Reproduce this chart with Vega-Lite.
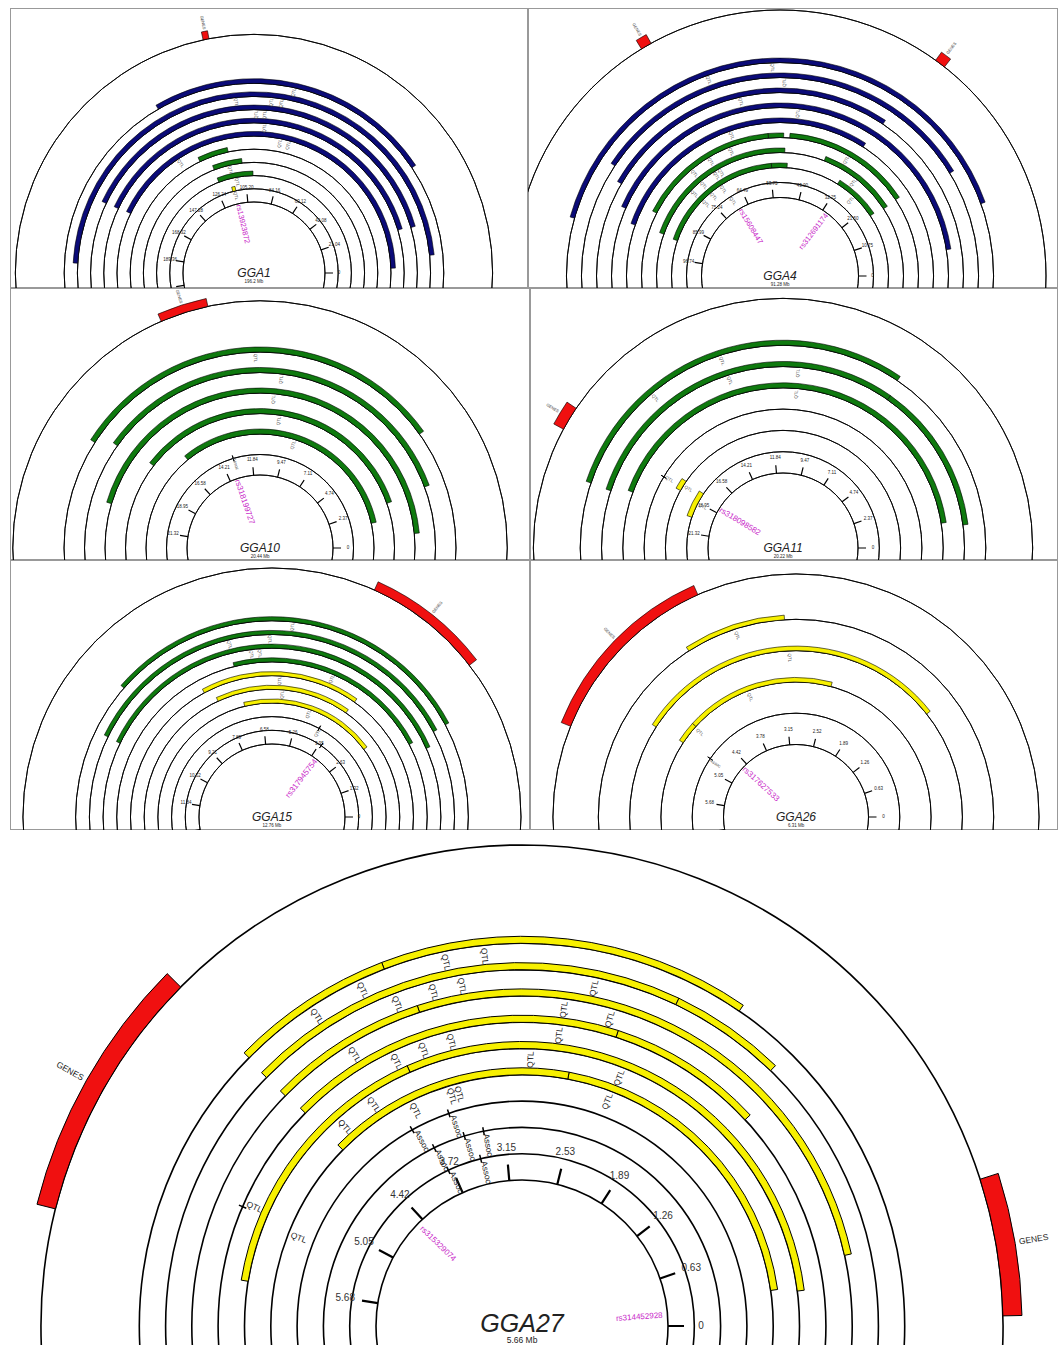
{
"$schema":"https://vega.github.io/schema/vega-lite/v6.json",
"padding":{"left":10,"top":8,"right":0,"bottom":0},
"background":"white",
"config":{"font":"Liberation Sans","text":{"font":"Liberation Sans"},"view":{"stroke":null}},
"spacing":0,
"resolve":{"scale":{"angle":"independent"}},
"datasets":{"main":[
{"p":"GGA1","k":"ring","r":0},{"p":"GGA1","k":"ring","r":1},{"p":"GGA1","k":"ring","r":2},{"p":"GGA1","k":"ring","r":3},{"p":"GGA1","k":"ring","r":4},{"p":"GGA1","k":"ring","r":5},{"p":"GGA1","k":"ring","r":6},{"p":"GGA1","k":"ring","r":7},{"p":"GGA1","k":"ring","r":8},{"p":"GGA1","k":"ring","r":9},{"p":"GGA1","k":"ring","r":12.7},
{"p":"GGA1","k":"bar","r":9,"s":37.3,"e":133.2,"c":"blue"},{"p":"GGA1","k":"bar","r":8,"s":6.4,"e":195.8,"c":"blue"},{"p":"GGA1","k":"bar","r":7,"s":17.9,"e":171.4,"c":"blue"},{"p":"GGA1","k":"bar","r":6,"s":18.4,"e":171.2,"c":"blue"},{"p":"GGA1","k":"bar","r":5,"s":2.2,"e":170.8,"c":"blue"},{"p":"GGA1","k":"bar","r":4,"s":113.0,"e":128.3,"c":"green"},{"p":"GGA1","k":"bar","r":3,"s":106.5,"e":123.0,"c":"green"},{"p":"GGA1","k":"bar","r":2,"s":100.3,"e":123.1,"c":"green"},{"p":"GGA1","k":"bar","r":1,"s":113.4,"e":115.8,"c":"yellow"},
{"p":"GGA1","k":"genes","r":12.7,"s":111.7,"e":113.3},{"p":"GGA1","k":"gl","r":12.7,"s":112.5,"t":"GENES"},
{"p":"GGA1","k":"tick","s":0,"t":"0"},{"p":"GGA1","k":"tick","s":21.04,"t":"21.04"},{"p":"GGA1","k":"tick","s":42.08,"t":"42.08"},{"p":"GGA1","k":"tick","s":63.12,"t":"63.12"},{"p":"GGA1","k":"tick","s":84.16,"t":"84.16"},{"p":"GGA1","k":"tick","s":105.2,"t":"105.20"},{"p":"GGA1","k":"tick","s":126.24,"t":"126.24"},{"p":"GGA1","k":"tick","s":147.28,"t":"147.28"},{"p":"GGA1","k":"tick","s":168.32,"t":"168.32"},{"p":"GGA1","k":"tick","s":189.36,"t":"189.36"},{"p":"GGA1","k":"tick","s":210.4,"t":""},
{"p":"GGA1","k":"lab","r":9,"s":85.8,"t":"QTL"},{"p":"GGA1","k":"lab","r":8,"s":106.4,"t":"QTL"},{"p":"GGA1","k":"lab","r":8,"s":93.1,"t":"QTL"},{"p":"GGA1","k":"lab","r":8,"s":89.4,"t":"QTL"},{"p":"GGA1","k":"lab","r":7,"s":98.6,"t":"QTL"},{"p":"GGA1","k":"lab","r":7,"s":95.2,"t":"QTL"},{"p":"GGA1","k":"lab","r":6,"s":94.9,"t":"QTL"},{"p":"GGA1","k":"lab","r":5,"s":87.0,"t":"QTL"},{"p":"GGA1","k":"lab","r":5,"s":82.9,"t":"QTL"},{"p":"GGA1","k":"lab","r":5,"s":137.3,"t":"QTL"},{"p":"GGA1","k":"lab","r":3,"s":114.2,"t":"QTL"},{"p":"GGA1","k":"lab","r":2,"s":111.5,"t":"QTL"},{"p":"GGA1","k":"lab","r":1,"s":114.6,"t":"QTL"},
{"p":"GGA1","k":"snp","s":114.1,"t":"rs13923872"},{"p":"GGA1","k":"title","t":"GGA1"},{"p":"GGA1","k":"sub","t":"196.2 Mb"},

{"p":"GGA4","k":"ring","r":0},{"p":"GGA4","k":"ring","r":1},{"p":"GGA4","k":"ring","r":2},{"p":"GGA4","k":"ring","r":3},{"p":"GGA4","k":"ring","r":4},{"p":"GGA4","k":"ring","r":5},{"p":"GGA4","k":"ring","r":6},{"p":"GGA4","k":"ring","r":7},{"p":"GGA4","k":"ring","r":8},{"p":"GGA4","k":"ring","r":9},{"p":"GGA4","k":"ring","r":12.5},
{"p":"GGA4","k":"bar","r":9,"s":11.2,"e":92.95,"c":"blue"},{"p":"GGA4","k":"bar","r":8,"s":17.65,"e":82.77,"c":"blue"},{"p":"GGA4","k":"bar","r":7,"s":31.62,"e":84.75,"c":"blue"},{"p":"GGA4","k":"bar","r":6,"s":5.09,"e":88.42,"c":"blue"},{"p":"GGA4","k":"bar","r":5,"s":32.36,"e":90.86,"c":"blue"},
{"p":"GGA4","k":"bar","r":4,"s":18.9,"e":48.65,"c":"green"},{"p":"GGA4","k":"bar","r":4,"s":50.07,"e":53.63,"c":"green"},{"p":"GGA4","k":"bar","r":4,"s":53.63,"e":86.56,"c":"green"},{"p":"GGA4","k":"bar","r":3,"s":18.67,"e":39.04,"c":"green"},{"p":"GGA4","k":"bar","r":3,"s":49.67,"e":90.63,"c":"green"},{"p":"GGA4","k":"bar","r":2,"s":19.07,"e":32.81,"c":"green"},{"p":"GGA4","k":"bar","r":2,"s":48.82,"e":53.41,"c":"green"},{"p":"GGA4","k":"bar","r":2,"s":53.41,"e":91.08,"c":"green"},
{"p":"GGA4","k":"genes","r":12.5,"s":67.32,"e":68.68},{"p":"GGA4","k":"genes","r":12.5,"s":29.31,"e":30.66},{"p":"GGA4","k":"gl","r":12.5,"s":68.0,"t":"GENES"},{"p":"GGA4","k":"gl","r":12.5,"s":29.98,"t":"GENES"},
{"p":"GGA4","k":"tick","s":0,"t":"0"},{"p":"GGA4","k":"tick","s":10.749,"t":"10.75"},{"p":"GGA4","k":"tick","s":21.498,"t":"21.50"},{"p":"GGA4","k":"tick","s":32.247,"t":"32.25"},{"p":"GGA4","k":"tick","s":42.996,"t":"43.00"},{"p":"GGA4","k":"tick","s":53.745,"t":"53.75"},{"p":"GGA4","k":"tick","s":64.494,"t":"64.49"},{"p":"GGA4","k":"tick","s":75.243,"t":"75.24"},{"p":"GGA4","k":"tick","s":85.992,"t":"85.99"},{"p":"GGA4","k":"tick","s":96.741,"t":"96.74"},{"p":"GGA4","k":"tick","s":107.49,"t":""},
{"p":"GGA4","k":"lab","r":9,"s":52.16,"t":"QTL"},{"p":"GGA4","k":"lab","r":9,"s":62.29,"t":"QTL"},{"p":"GGA4","k":"lab","r":8,"s":50.12,"t":"QTL"},{"p":"GGA4","k":"lab","r":7,"s":58.16,"t":"QTL"},{"p":"GGA4","k":"lab","r":6,"s":47.3,"t":"QTL"},{"p":"GGA4","k":"lab","r":5,"s":61.78,"t":"QTL"},{"p":"GGA4","k":"lab","r":4,"s":63.14,"t":"QTL"},{"p":"GGA4","k":"lab","r":4,"s":68.62,"t":"QTL"},{"p":"GGA4","k":"lab","r":4,"s":73.6,"t":"QTL"},{"p":"GGA4","k":"lab","r":4,"s":34.0,"t":"QTL"},{"p":"GGA4","k":"lab","r":3,"s":67.89,"t":"QTL"},{"p":"GGA4","k":"lab","r":3,"s":69.36,"t":"QTL"},{"p":"GGA4","k":"lab","r":3,"s":73.72,"t":"QTL"},{"p":"GGA4","k":"lab","r":3,"s":77.17,"t":"QTL"},{"p":"GGA4","k":"lab","r":3,"s":29.25,"t":"QTL"},{"p":"GGA4","k":"lab","r":2,"s":69.87,"t":"QTL"},{"p":"GGA4","k":"lab","r":2,"s":73.6,"t":"QTL"},{"p":"GGA4","k":"lab","r":2,"s":76.94,"t":"QTL"},{"p":"GGA4","k":"lab","r":2,"s":26.48,"t":"QTL"},{"p":"GGA4","k":"lab","r":1,"s":69.3,"t":"QTL"},
{"p":"GGA4","k":"snp","s":68.45,"t":"rs15608447"},{"p":"GGA4","k":"snp","s":29.81,"t":"rs312691174"},{"p":"GGA4","k":"title","t":"GGA4"},{"p":"GGA4","k":"sub","t":"91.28 Mb"},

{"p":"GGA10","k":"ring","r":0},{"p":"GGA10","k":"ring","r":1},{"p":"GGA10","k":"ring","r":2},{"p":"GGA10","k":"ring","r":3},{"p":"GGA10","k":"ring","r":4},{"p":"GGA10","k":"ring","r":5},{"p":"GGA10","k":"ring","r":6},{"p":"GGA10","k":"ring","r":8.5},
{"p":"GGA10","k":"bar","r":6,"s":4.43,"e":18.38,"c":"green"},{"p":"GGA10","k":"bar","r":5,"s":2.54,"e":18.0,"c":"green"},{"p":"GGA10","k":"bar","r":4,"s":0.67,"e":20.37,"c":"green"},{"p":"GGA10","k":"bar","r":3,"s":2.42,"e":17.74,"c":"green"},{"p":"GGA10","k":"bar","r":2,"s":1.56,"e":16.12,"c":"green"},
{"p":"GGA10","k":"genes","r":8.5,"s":12.74,"e":14.16},{"p":"GGA10","k":"gl","r":8.5,"s":13.45,"t":"GENES"},{"p":"GGA10","k":"mk","r":1,"s":13.3},
{"p":"GGA10","k":"tick","s":0,"t":"0"},{"p":"GGA10","k":"tick","s":2.369,"t":"2.37"},{"p":"GGA10","k":"tick","s":4.738,"t":"4.74"},{"p":"GGA10","k":"tick","s":7.107,"t":"7.11"},{"p":"GGA10","k":"tick","s":9.476,"t":"9.47"},{"p":"GGA10","k":"tick","s":11.845,"t":"11.84"},{"p":"GGA10","k":"tick","s":14.214,"t":"14.21"},{"p":"GGA10","k":"tick","s":16.583,"t":"16.58"},{"p":"GGA10","k":"tick","s":18.952,"t":"18.95"},{"p":"GGA10","k":"tick","s":21.321,"t":"21.32"},{"p":"GGA10","k":"tick","s":23.69,"t":""},
{"p":"GGA10","k":"lab","r":6,"s":11.41,"t":"QTL"},{"p":"GGA10","k":"lab","r":5,"s":10.31,"t":"QTL"},{"p":"GGA10","k":"lab","r":4,"s":10.56,"t":"QTL"},{"p":"GGA10","k":"lab","r":3,"s":10.15,"t":"QTL"},{"p":"GGA10","k":"lab","r":2,"s":8.98,"t":"QTL"},{"p":"GGA10","k":"lab","r":1,"s":13.27,"t":"Assoc"},
{"p":"GGA10","k":"snp","s":13.58,"t":"rs318199727"},{"p":"GGA10","k":"title","t":"GGA10"},{"p":"GGA10","k":"sub","t":"20.44 Mb"},

{"p":"GGA11","k":"ring","r":0},{"p":"GGA11","k":"ring","r":1},{"p":"GGA11","k":"ring","r":2},{"p":"GGA11","k":"ring","r":3},{"p":"GGA11","k":"ring","r":4},{"p":"GGA11","k":"ring","r":5},{"p":"GGA11","k":"ring","r":6},{"p":"GGA11","k":"ring","r":8.2},
{"p":"GGA11","k":"bar","r":6,"s":6.94,"e":20.11,"c":"green"},{"p":"GGA11","k":"bar","r":5,"s":0.91,"e":6.84,"c":"green"},{"p":"GGA11","k":"bar","r":5,"s":6.84,"e":20.15,"c":"green"},{"p":"GGA11","k":"bar","r":4,"s":1.11,"e":19.9,"c":"green"},{"p":"GGA11","k":"bar","r":2,"s":18.14,"e":18.8,"c":"yellow"},{"p":"GGA11","k":"bar","r":1,"s":18.17,"e":20.12,"c":"yellow"},
{"p":"GGA11","k":"mk","r":3,"s":18.6},{"p":"GGA11","k":"genes","r":8.2,"s":18.2,"e":18.9},{"p":"GGA11","k":"gl","r":8.2,"s":18.55,"t":"GENES"},
{"p":"GGA11","k":"tick","s":0,"t":"0"},{"p":"GGA11","k":"tick","s":2.369,"t":"2.37"},{"p":"GGA11","k":"tick","s":4.738,"t":"4.74"},{"p":"GGA11","k":"tick","s":7.107,"t":"7.11"},{"p":"GGA11","k":"tick","s":9.476,"t":"9.47"},{"p":"GGA11","k":"tick","s":11.845,"t":"11.84"},{"p":"GGA11","k":"tick","s":14.214,"t":"14.21"},{"p":"GGA11","k":"tick","s":16.583,"t":"16.58"},{"p":"GGA11","k":"tick","s":18.952,"t":"18.95"},{"p":"GGA11","k":"tick","s":21.321,"t":"21.32"},{"p":"GGA11","k":"tick","s":23.69,"t":""},
{"p":"GGA11","k":"lab","r":6,"s":13.49,"t":"QTL"},{"p":"GGA11","k":"lab","r":6,"s":16.28,"t":"QTL"},{"p":"GGA11","k":"lab","r":5,"s":13.44,"t":"QTL"},{"p":"GGA11","k":"lab","r":5,"s":10.6,"t":"QTL"},{"p":"GGA11","k":"lab","r":4,"s":10.59,"t":"QTL"},{"p":"GGA11","k":"lab","r":3,"s":18.58,"t":"QTL"},{"p":"GGA11","k":"lab","r":2,"s":18.48,"t":"QTL"},{"p":"GGA11","k":"lab","r":1,"s":19.08,"t":"QTL"},
{"p":"GGA11","k":"snp","s":18.56,"t":"rs318098582"},{"p":"GGA11","k":"title","t":"GGA11"},{"p":"GGA11","k":"sub","t":"20.22 Mb"},

{"p":"GGA15","k":"ring","r":0},{"p":"GGA15","k":"ring","r":1},{"p":"GGA15","k":"ring","r":2},{"p":"GGA15","k":"ring","r":3},{"p":"GGA15","k":"ring","r":4},{"p":"GGA15","k":"ring","r":5},{"p":"GGA15","k":"ring","r":6},{"p":"GGA15","k":"ring","r":7},{"p":"GGA15","k":"ring","r":8},{"p":"GGA15","k":"ring","r":9},{"p":"GGA15","k":"ring","r":12.85},
{"p":"GGA15","k":"bar","r":9,"s":1.94,"e":9.62,"c":"green"},{"p":"GGA15","k":"bar","r":8,"s":1.93,"e":10.66,"c":"green"},{"p":"GGA15","k":"bar","r":7,"s":1.66,"e":10.67,"c":"green"},{"p":"GGA15","k":"bar","r":6,"s":1.93,"e":7.21,"c":"green"},{"p":"GGA15","k":"bar","r":5,"s":3.76,"e":8.21,"c":"yellow"},{"p":"GGA15","k":"bar","r":4,"s":3.78,"e":7.96,"c":"yellow"},{"p":"GGA15","k":"bar","r":3,"s":2.52,"e":7.19,"c":"yellow"},
{"p":"GGA15","k":"genes","r":12.85,"s":2.6,"e":4.55},{"p":"GGA15","k":"gl","r":12.85,"s":3.58,"t":"GENES"},{"p":"GGA15","k":"mk","r":2,"s":4.29},{"p":"GGA15","k":"mk","r":1,"s":3.84},
{"p":"GGA15","k":"tick","s":0,"t":"0"},{"p":"GGA15","k":"tick","s":1.3156,"t":"1.32"},{"p":"GGA15","k":"tick","s":2.6312,"t":"2.63"},{"p":"GGA15","k":"tick","s":3.9468,"t":"3.95"},{"p":"GGA15","k":"tick","s":5.2624,"t":"5.26"},{"p":"GGA15","k":"tick","s":6.578,"t":"6.58"},{"p":"GGA15","k":"tick","s":7.8936,"t":"7.89"},{"p":"GGA15","k":"tick","s":9.2092,"t":"9.21"},{"p":"GGA15","k":"tick","s":10.5248,"t":"10.52"},{"p":"GGA15","k":"tick","s":11.8404,"t":"11.84"},{"p":"GGA15","k":"tick","s":13.156,"t":""},
{"p":"GGA15","k":"lab","r":9,"s":5.8,"t":"QTL"},{"p":"GGA15","k":"lab","r":8,"s":6.29,"t":"QTL"},{"p":"GGA15","k":"lab","r":8,"s":7.2,"t":"QTL"},{"p":"GGA15","k":"lab","r":7,"s":6.74,"t":"QTL"},{"p":"GGA15","k":"lab","r":7,"s":6.54,"t":"QTL"},{"p":"GGA15","k":"lab","r":6,"s":4.6,"t":"QTL"},{"p":"GGA15","k":"lab","r":5,"s":6.0,"t":"QTL"},{"p":"GGA15","k":"lab","r":4,"s":5.89,"t":"QTL"},{"p":"GGA15","k":"lab","r":3,"s":4.87,"t":"QTL"},{"p":"GGA15","k":"lab","r":2,"s":4.25,"t":"QTL"},
{"p":"GGA15","k":"snp","s":3.61,"t":"rs317945754"},{"p":"GGA15","k":"title","t":"GGA15"},{"p":"GGA15","k":"sub","t":"12.76 Mb"},

{"p":"GGA26","k":"ring","r":0},{"p":"GGA26","k":"ring","r":1},{"p":"GGA26","k":"ring","r":2},{"p":"GGA26","k":"ring","r":3},{"p":"GGA26","k":"ring","r":4},{"p":"GGA26","k":"ring","r":5.45},
{"p":"GGA26","k":"bar","r":4,"s":3.1,"e":4.08,"c":"yellow"},{"p":"GGA26","k":"bar","r":3,"s":1.27,"e":4.89,"c":"yellow"},{"p":"GGA26","k":"bar","r":2,"s":2.49,"e":4.58,"c":"yellow"},{"p":"GGA26","k":"bar","r":2,"s":4.58,"e":4.87,"c":"yellow"},
{"p":"GGA26","k":"genes","r":5.45,"s":3.78,"e":5.25},{"p":"GGA26","k":"gl","r":5.45,"s":4.5,"t":"GENES"},{"p":"GGA26","k":"mk","r":1,"s":4.84},
{"p":"GGA26","k":"tick","s":0,"t":"0"},{"p":"GGA26","k":"tick","s":0.631,"t":"0.63"},{"p":"GGA26","k":"tick","s":1.262,"t":"1.26"},{"p":"GGA26","k":"tick","s":1.893,"t":"1.89"},{"p":"GGA26","k":"tick","s":2.524,"t":"2.52"},{"p":"GGA26","k":"tick","s":3.155,"t":"3.15"},{"p":"GGA26","k":"tick","s":3.786,"t":"3.78"},{"p":"GGA26","k":"tick","s":4.417,"t":"4.42"},{"p":"GGA26","k":"tick","s":5.048,"t":"5.05"},{"p":"GGA26","k":"tick","s":5.679,"t":"5.68"},{"p":"GGA26","k":"tick","s":6.31,"t":""},
{"p":"GGA26","k":"lab","r":4,"s":3.59,"t":"QTL"},{"p":"GGA26","k":"lab","r":3,"s":3.07,"t":"QTL"},{"p":"GGA26","k":"lab","r":2,"s":3.69,"t":"QTL"},{"p":"GGA26","k":"lab","r":2,"s":4.61,"t":"QTL"},{"p":"GGA26","k":"lab","r":1,"s":4.87,"t":"Assoc"},
{"p":"GGA26","k":"snp","s":4.56,"t":"rs317627533"},{"p":"GGA26","k":"title","t":"GGA26"},{"p":"GGA26","k":"sub","t":"6.31 Mb"},

{"p":"GGA27","k":"ring","r":0},{"p":"GGA27","k":"ring","r":1},{"p":"GGA27","k":"ring","r":2},{"p":"GGA27","k":"ring","r":3},{"p":"GGA27","k":"ring","r":4},{"p":"GGA27","k":"ring","r":5},{"p":"GGA27","k":"ring","r":6},{"p":"GGA27","k":"ring","r":7},{"p":"GGA27","k":"ring","r":8},{"p":"GGA27","k":"ring","r":9},{"p":"GGA27","k":"ring","r":12.74},
{"p":"GGA27","k":"bar","r":9,"s":1.84,"e":3.69,"c":"yellow"},{"p":"GGA27","k":"bar","r":9,"s":3.69,"e":4.5,"c":"yellow"},{"p":"GGA27","k":"bar","r":8,"s":1.52,"e":2.14,"c":"yellow"},{"p":"GGA27","k":"bar","r":8,"s":2.14,"e":4.51,"c":"yellow"},{"p":"GGA27","k":"bar","r":7,"s":0.41,"e":3.59,"c":"yellow"},{"p":"GGA27","k":"bar","r":7,"s":3.59,"e":4.51,"c":"yellow"},{"p":"GGA27","k":"bar","r":6,"s":1.42,"e":2.39,"c":"yellow"},{"p":"GGA27","k":"bar","r":6,"s":2.39,"e":4.5,"c":"yellow"},{"p":"GGA27","k":"bar","r":5,"s":0.24,"e":3.78,"c":"yellow"},{"p":"GGA27","k":"bar","r":5,"s":3.78,"e":5.67,"c":"yellow"},{"p":"GGA27","k":"bar","r":4,"s":0.27,"e":2.64,"c":"yellow"},{"p":"GGA27","k":"bar","r":4,"s":2.64,"e":4.5,"c":"yellow"},
{"p":"GGA27","k":"genes","r":12.74,"s":4.49,"e":5.51},{"p":"GGA27","k":"genes","r":12.74,"s":0.04,"e":0.59},{"p":"GGA27","k":"gl","r":12.74,"s":5.0,"t":"GENES"},{"p":"GGA27","k":"gl","r":12.74,"s":0.32,"t":"GENES"},
{"p":"GGA27","k":"mk","r":3,"s":3.96},{"p":"GGA27","k":"mk","r":3,"s":3.62},{"p":"GGA27","k":"mk","r":2,"s":3.86},{"p":"GGA27","k":"mk","r":2,"s":3.55},{"p":"GGA27","k":"mk","r":2,"s":3.36},{"p":"GGA27","k":"mk","r":1,"s":3.83},{"p":"GGA27","k":"mk","r":1,"s":3.45},{"p":"GGA27","k":"mk","r":6,"s":5.21},
{"p":"GGA27","k":"tick","s":0,"t":"0"},{"p":"GGA27","k":"tick","s":0.631,"t":"0.63"},{"p":"GGA27","k":"tick","s":1.262,"t":"1.26"},{"p":"GGA27","k":"tick","s":1.893,"t":"1.89"},{"p":"GGA27","k":"tick","s":2.524,"t":"2.53"},{"p":"GGA27","k":"tick","s":3.155,"t":"3.15"},{"p":"GGA27","k":"tick","s":3.786,"t":"3.72"},{"p":"GGA27","k":"tick","s":4.417,"t":"4.42"},{"p":"GGA27","k":"tick","s":5.048,"t":"5.05"},{"p":"GGA27","k":"tick","s":5.679,"t":"5.68"},{"p":"GGA27","k":"tick","s":6.31,"t":""},
{"p":"GGA27","k":"lab","r":9,"s":3.18,"t":"QTL"},{"p":"GGA27","k":"lab","r":9,"s":3.38,"t":"QTL"},{"p":"GGA27","k":"lab","r":9,"s":3.83,"t":"QTL"},{"p":"GGA27","k":"lab","r":9,"s":4.1,"t":"QTL"},{"p":"GGA27","k":"lab","r":8,"s":3.32,"t":"QTL"},{"p":"GGA27","k":"lab","r":8,"s":3.48,"t":"QTL"},{"p":"GGA27","k":"lab","r":8,"s":3.69,"t":"QTL"},{"p":"GGA27","k":"lab","r":8,"s":2.59,"t":"QTL"},{"p":"GGA27","k":"lab","r":7,"s":2.74,"t":"QTL"},{"p":"GGA27","k":"lab","r":7,"s":2.46,"t":"QTL"},{"p":"GGA27","k":"lab","r":7,"s":4.04,"t":"QTL"},{"p":"GGA27","k":"lab","r":6,"s":3.83,"t":"QTL"},{"p":"GGA27","k":"lab","r":6,"s":3.64,"t":"QTL"},{"p":"GGA27","k":"lab","r":6,"s":3.45,"t":"QTL"},{"p":"GGA27","k":"lab","r":6,"s":2.75,"t":"QTL"},{"p":"GGA27","k":"lab","r":6,"s":5.18,"t":"QTL"},{"p":"GGA27","k":"lab","r":5,"s":2.93,"t":"QTL"},{"p":"GGA27","k":"lab","r":5,"s":2.28,"t":"QTL"},{"p":"GGA27","k":"lab","r":5,"s":4.11,"t":"QTL"},{"p":"GGA27","k":"lab","r":5,"s":4.37,"t":"QTL"},{"p":"GGA27","k":"lab","r":4,"s":3.86,"t":"QTL"},{"p":"GGA27","k":"lab","r":4,"s":3.55,"t":"QTL"},{"p":"GGA27","k":"lab","r":4,"s":3.49,"t":"QTL"},{"p":"GGA27","k":"lab","r":4,"s":2.3,"t":"QTL"},{"p":"GGA27","k":"lab","r":4,"s":5.26,"t":"QTL"},
{"p":"GGA27","k":"as","r":3,"s":3.93,"t":"Assoc"},{"p":"GGA27","k":"as","r":3,"s":3.59,"t":"Assoc"},{"p":"GGA27","k":"as","r":2,"s":3.84,"t":"Assoc"},{"p":"GGA27","k":"as","r":2,"s":3.53,"t":"Assoc"},{"p":"GGA27","k":"as","r":2,"s":3.34,"t":"Assoc"},{"p":"GGA27","k":"as","r":1,"s":3.8,"t":"Assoc"},{"p":"GGA27","k":"as","r":1,"s":3.42,"t":"Assoc"},
{"p":"GGA27","k":"snp","s":4.51,"t":"rs315329074"},{"p":"GGA27","k":"snp","s":0.14,"t":"rs314452928"},{"p":"GGA27","k":"title","t":"GGA27"},{"p":"GGA27","k":"sub","t":"5.66 Mb"}
]},
"vconcat":[
{"hconcat":[
{"width":518,"height":280,"data":{"name":"main"},"transform":[{"filter":"datum.p==='GGA1'"}],
"encoding":{"x":{"datum":0.471,"type":"quantitative","scale":{"domain":[0,1]},"axis":null},"y":{"datum":0.0536,"type":"quantitative","scale":{"domain":[0,1]},"axis":null}},
"resolve":{"scale":{"angle":"independent"}},
"layer":[
{"transform":[{"filter":"datum.k==='title'"}],"mark":{"type":"rect","fill":null,"stroke":"#999","strokeWidth":2,"clip":true},"encoding":{"x":{"datum":0,"type":"quantitative"},"x2":{"datum":1},"y":{"datum":0,"type":"quantitative"},"y2":{"datum":1}}},
{"transform":[{"filter":"datum.k==='ring'"}],"mark":{"type":"arc","filled":false,"stroke":"#000","strokeWidth":0.9,"clip":true},"encoding":{"theta":{"value":0},"theta2":{"value":6.2832},"radius":{"field":"r","type":"quantitative","scale":{"type":"linear","zero":false,"domain":[0,10],"range":[71,203]}},"radius2":{"field":"r"}}},
{"transform":[{"filter":"datum.k==='bar'"}],"mark":{"type":"arc","stroke":"#000","strokeWidth":0.6,"radiusOffset":4.5,"clip":true},"encoding":{"theta":{"field":"s","type":"quantitative","stack":null,"scale":{"domain":[0,210.4],"range":[1.5708,-1.7453]}},"theta2":{"field":"e"},"radius":{"field":"r","type":"quantitative"},"radius2":{"field":"r"},"color":{"field":"c","type":"nominal","scale":{"domain":["blue","green","yellow"],"range":["#0b0b78","#0f7a0f","#f7f000"]},"legend":null}}},
{"transform":[{"filter":"datum.k==='genes'"}],"mark":{"type":"arc","fill":"#f01010","stroke":"#000","strokeWidth":0.6,"radiusOffset":8,"clip":true},"encoding":{"theta":{"field":"s","type":"quantitative","stack":null},"theta2":{"field":"e"},"radius":{"field":"r","type":"quantitative"},"radius2":{"field":"r"}}},
{"transform":[{"filter":"datum.k==='tick'"}],"mark":{"type":"arc","filled":false,"stroke":"#000","strokeWidth":1.2,"radiusOffset":8,"clip":true},"encoding":{"theta":{"field":"s","type":"quantitative","stack":null},"theta2":{"field":"s"},"radius":{"datum":0,"type":"quantitative"},"radius2":{"datum":0}}},
{"transform":[{"filter":"datum.k==='tick'"}],"mark":{"type":"text","fontSize":4.5,"fill":"#222","radiusOffset":14,"align":"center","baseline":"middle","clip":true},"encoding":{"theta":{"field":"s","type":"quantitative"},"radius":{"datum":0,"type":"quantitative"},"text":{"field":"t"}}},
{"transform":[{"filter":"datum.k==='lab' && datum.s>99.66"}],"mark":{"type":"text","fontSize":4.5,"fill":"#555","radiusOffset":-5,"align":"center","baseline":"middle","clip":true},"encoding":{"theta":{"field":"s","type":"quantitative"},"radius":{"field":"r","type":"quantitative"},"text":{"field":"t"},"angle":{"field":"s","type":"quantitative","scale":{"domain":[0,210.4],"range":[180,-10]}}}},
{"transform":[{"filter":"datum.k==='lab' && datum.s<=99.66"}],"mark":{"type":"text","fontSize":4.5,"fill":"#555","radiusOffset":-5,"align":"center","baseline":"middle","clip":true},"encoding":{"theta":{"field":"s","type":"quantitative"},"radius":{"field":"r","type":"quantitative"},"text":{"field":"t"},"angle":{"field":"s","type":"quantitative","scale":{"domain":[0,210.4],"range":[0,-190]}}}},
{"transform":[{"filter":"datum.k==='snp' && datum.s>99.66"}],"mark":{"type":"text","fontSize":7.5,"fill":"#c81ec8","radiusOffset":-1,"align":"left","baseline":"middle","clip":true},"encoding":{"theta":{"field":"s","type":"quantitative"},"radius":{"datum":0,"type":"quantitative"},"text":{"field":"t"},"angle":{"field":"s","type":"quantitative","scale":{"domain":[0,210.4],"range":[180,-10]}}}},
{"transform":[{"filter":"datum.k==='gl' && datum.s>99.66"}],"mark":{"type":"text","fontSize":4,"fill":"#333","radiusOffset":10,"align":"right","baseline":"middle","clip":true},"encoding":{"theta":{"field":"s","type":"quantitative"},"radius":{"field":"r","type":"quantitative"},"text":{"field":"t"},"angle":{"field":"s","type":"quantitative","scale":{"domain":[0,210.4],"range":[180,-10]}}}},
{"transform":[{"filter":"datum.k==='title'"}],"mark":{"type":"text","fontSize":12,"fontStyle":"italic","fill":"#222","align":"center","baseline":"middle","clip":true},"encoding":{"text":{"field":"t"}}},
{"transform":[{"filter":"datum.k==='sub'"}],"mark":{"type":"text","fontSize":4.5,"fill":"#222","align":"center","baseline":"middle","dy":9,"clip":true},"encoding":{"text":{"field":"t"}}}
]},
{"width":530,"height":280,"data":{"name":"main"},"transform":[{"filter":"datum.p==='GGA4'"}],
"encoding":{"x":{"datum":0.4755,"type":"quantitative","scale":{"domain":[0,1]},"axis":null},"y":{"datum":0.0429,"type":"quantitative","scale":{"domain":[0,1]},"axis":null}},
"resolve":{"scale":{"angle":"independent"}},
"layer":[
{"transform":[{"filter":"datum.k==='title'"}],"mark":{"type":"rect","fill":null,"stroke":"#999","strokeWidth":2,"clip":true},"encoding":{"x":{"datum":0,"type":"quantitative"},"x2":{"datum":1},"y":{"datum":0,"type":"quantitative"},"y2":{"datum":1}}},
{"transform":[{"filter":"datum.k==='ring'"}],"mark":{"type":"arc","filled":false,"stroke":"#000","strokeWidth":0.9,"clip":true},"encoding":{"theta":{"value":0},"theta2":{"value":6.2832},"radius":{"field":"r","type":"quantitative","scale":{"type":"linear","zero":false,"domain":[0,10],"range":[78.5,228.5]}},"radius2":{"field":"r"}}},
{"transform":[{"filter":"datum.k==='bar'"}],"mark":{"type":"arc","stroke":"#000","strokeWidth":0.6,"radiusOffset":4.5,"clip":true},"encoding":{"theta":{"field":"s","type":"quantitative","stack":null,"scale":{"domain":[0,107.49],"range":[1.5708,-1.7453]}},"theta2":{"field":"e"},"radius":{"field":"r","type":"quantitative"},"radius2":{"field":"r"},"color":{"field":"c","type":"nominal","scale":{"domain":["blue","green","yellow"],"range":["#0b0b78","#0f7a0f","#f7f000"]},"legend":null}}},
{"transform":[{"filter":"datum.k==='genes'"}],"mark":{"type":"arc","fill":"#f01010","stroke":"#000","strokeWidth":0.6,"radiusOffset":10,"clip":true},"encoding":{"theta":{"field":"s","type":"quantitative","stack":null},"theta2":{"field":"e"},"radius":{"field":"r","type":"quantitative"},"radius2":{"field":"r"}}},
{"transform":[{"filter":"datum.k==='tick'"}],"mark":{"type":"arc","filled":false,"stroke":"#000","strokeWidth":1.2,"radiusOffset":8,"clip":true},"encoding":{"theta":{"field":"s","type":"quantitative","stack":null},"theta2":{"field":"s"},"radius":{"datum":0,"type":"quantitative"},"radius2":{"datum":0}}},
{"transform":[{"filter":"datum.k==='tick'"}],"mark":{"type":"text","fontSize":4.5,"fill":"#222","radiusOffset":14,"align":"center","baseline":"middle","clip":true},"encoding":{"theta":{"field":"s","type":"quantitative"},"radius":{"datum":0,"type":"quantitative"},"text":{"field":"t"}}},
{"transform":[{"filter":"datum.k==='lab' && datum.s>50.92"}],"mark":{"type":"text","fontSize":4.5,"fill":"#555","radiusOffset":-5,"align":"center","baseline":"middle","clip":true},"encoding":{"theta":{"field":"s","type":"quantitative"},"radius":{"field":"r","type":"quantitative"},"text":{"field":"t"},"angle":{"field":"s","type":"quantitative","scale":{"domain":[0,107.49],"range":[180,-10]}}}},
{"transform":[{"filter":"datum.k==='lab' && datum.s<=50.92"}],"mark":{"type":"text","fontSize":4.5,"fill":"#555","radiusOffset":-5,"align":"center","baseline":"middle","clip":true},"encoding":{"theta":{"field":"s","type":"quantitative"},"radius":{"field":"r","type":"quantitative"},"text":{"field":"t"},"angle":{"field":"s","type":"quantitative","scale":{"domain":[0,107.49],"range":[0,-190]}}}},
{"transform":[{"filter":"datum.k==='snp' && datum.s>50.92"}],"mark":{"type":"text","fontSize":7.5,"fill":"#c81ec8","radiusOffset":-1,"align":"left","baseline":"middle","clip":true},"encoding":{"theta":{"field":"s","type":"quantitative"},"radius":{"datum":0,"type":"quantitative"},"text":{"field":"t"},"angle":{"field":"s","type":"quantitative","scale":{"domain":[0,107.49],"range":[180,-10]}}}},
{"transform":[{"filter":"datum.k==='snp' && datum.s<=50.92"}],"mark":{"type":"text","fontSize":7.5,"fill":"#c81ec8","radiusOffset":-1,"align":"right","baseline":"middle","clip":true},"encoding":{"theta":{"field":"s","type":"quantitative"},"radius":{"datum":0,"type":"quantitative"},"text":{"field":"t"},"angle":{"field":"s","type":"quantitative","scale":{"domain":[0,107.49],"range":[0,-190]}}}},
{"transform":[{"filter":"datum.k==='gl' && datum.s>50.92"}],"mark":{"type":"text","fontSize":4,"fill":"#333","radiusOffset":12,"align":"right","baseline":"middle","clip":true},"encoding":{"theta":{"field":"s","type":"quantitative"},"radius":{"field":"r","type":"quantitative"},"text":{"field":"t"},"angle":{"field":"s","type":"quantitative","scale":{"domain":[0,107.49],"range":[180,-10]}}}},
{"transform":[{"filter":"datum.k==='gl' && datum.s<=50.92"}],"mark":{"type":"text","fontSize":4,"fill":"#333","radiusOffset":12,"align":"left","baseline":"middle","clip":true},"encoding":{"theta":{"field":"s","type":"quantitative"},"radius":{"field":"r","type":"quantitative"},"text":{"field":"t"},"angle":{"field":"s","type":"quantitative","scale":{"domain":[0,107.49],"range":[0,-190]}}}},
{"transform":[{"filter":"datum.k==='title'"}],"mark":{"type":"text","fontSize":12,"fontStyle":"italic","fill":"#222","align":"center","baseline":"middle","clip":true},"encoding":{"text":{"field":"t"}}},
{"transform":[{"filter":"datum.k==='sub'"}],"mark":{"type":"text","fontSize":4.5,"fill":"#222","align":"center","baseline":"middle","dy":9,"clip":true},"encoding":{"text":{"field":"t"}}}
]}
],"spacing":0,"resolve":{"scale":{"angle":"independent"}}},
{"hconcat":[
{"width":520,"height":272,"data":{"name":"main"},"transform":[{"filter":"datum.p==='GGA10'"}],
"encoding":{"x":{"datum":0.4808,"type":"quantitative","scale":{"domain":[0,1]},"axis":null},"y":{"datum":0.0441,"type":"quantitative","scale":{"domain":[0,1]},"axis":null}},
"resolve":{"scale":{"angle":"independent"}},
"layer":[
{"transform":[{"filter":"datum.k==='title'"}],"mark":{"type":"rect","fill":null,"stroke":"#999","strokeWidth":2,"clip":true},"encoding":{"x":{"datum":0,"type":"quantitative"},"x2":{"datum":1},"y":{"datum":0,"type":"quantitative"},"y2":{"datum":1}}},
{"transform":[{"filter":"datum.k==='ring'"}],"mark":{"type":"arc","filled":false,"stroke":"#000","strokeWidth":0.9,"clip":true},"encoding":{"theta":{"value":0},"theta2":{"value":6.2832},"radius":{"field":"r","type":"quantitative","scale":{"type":"linear","zero":false,"domain":[0,10],"range":[73,278]}},"radius2":{"field":"r"}}},
{"transform":[{"filter":"datum.k==='bar'"}],"mark":{"type":"arc","stroke":"#000","strokeWidth":0.6,"radiusOffset":5,"clip":true},"encoding":{"theta":{"field":"s","type":"quantitative","stack":null,"scale":{"domain":[0,23.69],"range":[1.5708,-1.7453]}},"theta2":{"field":"e"},"radius":{"field":"r","type":"quantitative"},"radius2":{"field":"r"},"color":{"field":"c","type":"nominal","scale":{"domain":["blue","green","yellow"],"range":["#0b0b78","#0f7a0f","#f7f000"]},"legend":null}}},
{"transform":[{"filter":"datum.k==='genes'"}],"mark":{"type":"arc","fill":"#f01010","stroke":"#000","strokeWidth":0.6,"radiusOffset":8,"clip":true},"encoding":{"theta":{"field":"s","type":"quantitative","stack":null},"theta2":{"field":"e"},"radius":{"field":"r","type":"quantitative"},"radius2":{"field":"r"}}},
{"transform":[{"filter":"datum.k==='tick'"}],"mark":{"type":"arc","filled":false,"stroke":"#000","strokeWidth":1.2,"radiusOffset":8,"clip":true},"encoding":{"theta":{"field":"s","type":"quantitative","stack":null},"theta2":{"field":"s"},"radius":{"datum":0,"type":"quantitative"},"radius2":{"datum":0}}},
{"transform":[{"filter":"datum.k==='tick'"}],"mark":{"type":"text","fontSize":4.5,"fill":"#222","radiusOffset":15,"align":"center","baseline":"middle","clip":true},"encoding":{"theta":{"field":"s","type":"quantitative"},"radius":{"datum":0,"type":"quantitative"},"text":{"field":"t"}}},
{"transform":[{"filter":"datum.k==='mk'"}],"mark":{"type":"arc","filled":false,"stroke":"#000","strokeWidth":1,"radiusOffset":3,"radius2Offset":-3,"clip":true},"encoding":{"theta":{"field":"s","type":"quantitative","stack":null},"theta2":{"field":"s"},"radius":{"field":"r","type":"quantitative"},"radius2":{"field":"r"}}},
{"transform":[{"filter":"datum.k==='lab' && datum.s>11.22"}],"mark":{"type":"text","fontSize":4.5,"fill":"#555","radiusOffset":-6,"align":"center","baseline":"middle","clip":true},"encoding":{"theta":{"field":"s","type":"quantitative"},"radius":{"field":"r","type":"quantitative"},"text":{"field":"t"},"angle":{"field":"s","type":"quantitative","scale":{"domain":[0,23.69],"range":[180,-10]}}}},
{"transform":[{"filter":"datum.k==='lab' && datum.s<=11.22"}],"mark":{"type":"text","fontSize":4.5,"fill":"#555","radiusOffset":-6,"align":"center","baseline":"middle","clip":true},"encoding":{"theta":{"field":"s","type":"quantitative"},"radius":{"field":"r","type":"quantitative"},"text":{"field":"t"},"angle":{"field":"s","type":"quantitative","scale":{"domain":[0,23.69],"range":[0,-190]}}}},
{"transform":[{"filter":"datum.k==='snp' && datum.s>11.22"}],"mark":{"type":"text","fontSize":8,"fill":"#c81ec8","radiusOffset":-1,"align":"left","baseline":"middle","clip":true},"encoding":{"theta":{"field":"s","type":"quantitative"},"radius":{"datum":0,"type":"quantitative"},"text":{"field":"t"},"angle":{"field":"s","type":"quantitative","scale":{"domain":[0,23.69],"range":[180,-10]}}}},
{"transform":[{"filter":"datum.k==='gl' && datum.s>11.22"}],"mark":{"type":"text","fontSize":4,"fill":"#333","radiusOffset":10,"align":"right","baseline":"middle","clip":true},"encoding":{"theta":{"field":"s","type":"quantitative"},"radius":{"field":"r","type":"quantitative"},"text":{"field":"t"},"angle":{"field":"s","type":"quantitative","scale":{"domain":[0,23.69],"range":[180,-10]}}}},
{"transform":[{"filter":"datum.k==='title'"}],"mark":{"type":"text","fontSize":12,"fontStyle":"italic","fill":"#222","align":"center","baseline":"middle","clip":true},"encoding":{"text":{"field":"t"}}},
{"transform":[{"filter":"datum.k==='sub'"}],"mark":{"type":"text","fontSize":4.5,"fill":"#222","align":"center","baseline":"middle","dy":9,"clip":true},"encoding":{"text":{"field":"t"}}}
]},
{"width":528,"height":272,"data":{"name":"main"},"transform":[{"filter":"datum.p==='GGA11'"}],
"encoding":{"x":{"datum":0.4792,"type":"quantitative","scale":{"domain":[0,1]},"axis":null},"y":{"datum":0.0441,"type":"quantitative","scale":{"domain":[0,1]},"axis":null}},
"resolve":{"scale":{"angle":"independent"}},
"layer":[
{"transform":[{"filter":"datum.k==='title'"}],"mark":{"type":"rect","fill":null,"stroke":"#999","strokeWidth":2,"clip":true},"encoding":{"x":{"datum":0,"type":"quantitative"},"x2":{"datum":1},"y":{"datum":0,"type":"quantitative"},"y2":{"datum":1}}},
{"transform":[{"filter":"datum.k==='ring'"}],"mark":{"type":"arc","filled":false,"stroke":"#000","strokeWidth":0.9,"clip":true},"encoding":{"theta":{"value":0},"theta2":{"value":6.2832},"radius":{"field":"r","type":"quantitative","scale":{"type":"linear","zero":false,"domain":[0,10],"range":[75,288]}},"radius2":{"field":"r"}}},
{"transform":[{"filter":"datum.k==='bar'"}],"mark":{"type":"arc","stroke":"#000","strokeWidth":0.6,"radiusOffset":5,"clip":true},"encoding":{"theta":{"field":"s","type":"quantitative","stack":null,"scale":{"domain":[0,23.69],"range":[1.5708,-1.7453]}},"theta2":{"field":"e"},"radius":{"field":"r","type":"quantitative"},"radius2":{"field":"r"},"color":{"field":"c","type":"nominal","scale":{"domain":["blue","green","yellow"],"range":["#0b0b78","#0f7a0f","#f7f000"]},"legend":null}}},
{"transform":[{"filter":"datum.k==='genes'"}],"mark":{"type":"arc","fill":"#f01010","stroke":"#000","strokeWidth":0.6,"radiusOffset":11,"clip":true},"encoding":{"theta":{"field":"s","type":"quantitative","stack":null},"theta2":{"field":"e"},"radius":{"field":"r","type":"quantitative"},"radius2":{"field":"r"}}},
{"transform":[{"filter":"datum.k==='tick'"}],"mark":{"type":"arc","filled":false,"stroke":"#000","strokeWidth":1.2,"radiusOffset":8,"clip":true},"encoding":{"theta":{"field":"s","type":"quantitative","stack":null},"theta2":{"field":"s"},"radius":{"datum":0,"type":"quantitative"},"radius2":{"datum":0}}},
{"transform":[{"filter":"datum.k==='tick'"}],"mark":{"type":"text","fontSize":4.5,"fill":"#222","radiusOffset":15,"align":"center","baseline":"middle","clip":true},"encoding":{"theta":{"field":"s","type":"quantitative"},"radius":{"datum":0,"type":"quantitative"},"text":{"field":"t"}}},
{"transform":[{"filter":"datum.k==='mk'"}],"mark":{"type":"arc","filled":false,"stroke":"#000","strokeWidth":1,"radiusOffset":3,"radius2Offset":-3,"clip":true},"encoding":{"theta":{"field":"s","type":"quantitative","stack":null},"theta2":{"field":"s"},"radius":{"field":"r","type":"quantitative"},"radius2":{"field":"r"}}},
{"transform":[{"filter":"datum.k==='lab' && datum.s>11.22"}],"mark":{"type":"text","fontSize":4.5,"fill":"#555","radiusOffset":-6,"align":"center","baseline":"middle","clip":true},"encoding":{"theta":{"field":"s","type":"quantitative"},"radius":{"field":"r","type":"quantitative"},"text":{"field":"t"},"angle":{"field":"s","type":"quantitative","scale":{"domain":[0,23.69],"range":[180,-10]}}}},
{"transform":[{"filter":"datum.k==='lab' && datum.s<=11.22"}],"mark":{"type":"text","fontSize":4.5,"fill":"#555","radiusOffset":-6,"align":"center","baseline":"middle","clip":true},"encoding":{"theta":{"field":"s","type":"quantitative"},"radius":{"field":"r","type":"quantitative"},"text":{"field":"t"},"angle":{"field":"s","type":"quantitative","scale":{"domain":[0,23.69],"range":[0,-190]}}}},
{"transform":[{"filter":"datum.k==='snp' && datum.s>11.22"}],"mark":{"type":"text","fontSize":8,"fill":"#c81ec8","radiusOffset":-1,"align":"left","baseline":"middle","clip":true},"encoding":{"theta":{"field":"s","type":"quantitative"},"radius":{"datum":0,"type":"quantitative"},"text":{"field":"t"},"angle":{"field":"s","type":"quantitative","scale":{"domain":[0,23.69],"range":[180,-10]}}}},
{"transform":[{"filter":"datum.k==='gl' && datum.s>11.22"}],"mark":{"type":"text","fontSize":4,"fill":"#333","radiusOffset":13,"align":"right","baseline":"middle","clip":true},"encoding":{"theta":{"field":"s","type":"quantitative"},"radius":{"field":"r","type":"quantitative"},"text":{"field":"t"},"angle":{"field":"s","type":"quantitative","scale":{"domain":[0,23.69],"range":[180,-10]}}}},
{"transform":[{"filter":"datum.k==='title'"}],"mark":{"type":"text","fontSize":12,"fontStyle":"italic","fill":"#222","align":"center","baseline":"middle","clip":true},"encoding":{"text":{"field":"t"}}},
{"transform":[{"filter":"datum.k==='sub'"}],"mark":{"type":"text","fontSize":4.5,"fill":"#222","align":"center","baseline":"middle","dy":9,"clip":true},"encoding":{"text":{"field":"t"}}}
]}
],"spacing":0,"resolve":{"scale":{"angle":"independent"}}},
{"hconcat":[
{"width":520,"height":270,"data":{"name":"main"},"transform":[{"filter":"datum.p==='GGA15'"}],
"encoding":{"x":{"datum":0.5038,"type":"quantitative","scale":{"domain":[0,1]},"axis":null},"y":{"datum":0.0481,"type":"quantitative","scale":{"domain":[0,1]},"axis":null}},
"resolve":{"scale":{"angle":"independent"}},
"layer":[
{"transform":[{"filter":"datum.k==='title'"}],"mark":{"type":"rect","fill":null,"stroke":"#999","strokeWidth":2,"clip":true},"encoding":{"x":{"datum":0,"type":"quantitative"},"x2":{"datum":1},"y":{"datum":0,"type":"quantitative"},"y2":{"datum":1}}},
{"transform":[{"filter":"datum.k==='ring'"}],"mark":{"type":"arc","filled":false,"stroke":"#000","strokeWidth":0.9,"clip":true},"encoding":{"theta":{"value":0},"theta2":{"value":6.2832},"radius":{"field":"r","type":"quantitative","scale":{"type":"linear","zero":false,"domain":[0,10],"range":[73,210]}},"radius2":{"field":"r"}}},
{"transform":[{"filter":"datum.k==='bar'"}],"mark":{"type":"arc","stroke":"#000","strokeWidth":0.6,"radiusOffset":4,"clip":true},"encoding":{"theta":{"field":"s","type":"quantitative","stack":null,"scale":{"domain":[0,13.156],"range":[1.5708,-1.7453]}},"theta2":{"field":"e"},"radius":{"field":"r","type":"quantitative"},"radius2":{"field":"r"},"color":{"field":"c","type":"nominal","scale":{"domain":["blue","green","yellow"],"range":["#0b0b78","#0f7a0f","#f7f000"]},"legend":null}}},
{"transform":[{"filter":"datum.k==='genes'"}],"mark":{"type":"arc","fill":"#f01010","stroke":"#000","strokeWidth":0.6,"radiusOffset":9,"clip":true},"encoding":{"theta":{"field":"s","type":"quantitative","stack":null},"theta2":{"field":"e"},"radius":{"field":"r","type":"quantitative"},"radius2":{"field":"r"}}},
{"transform":[{"filter":"datum.k==='tick'"}],"mark":{"type":"arc","filled":false,"stroke":"#000","strokeWidth":1.2,"radiusOffset":8,"clip":true},"encoding":{"theta":{"field":"s","type":"quantitative","stack":null},"theta2":{"field":"s"},"radius":{"datum":0,"type":"quantitative"},"radius2":{"datum":0}}},
{"transform":[{"filter":"datum.k==='tick'"}],"mark":{"type":"text","fontSize":4.5,"fill":"#222","radiusOffset":14,"align":"center","baseline":"middle","clip":true},"encoding":{"theta":{"field":"s","type":"quantitative"},"radius":{"datum":0,"type":"quantitative"},"text":{"field":"t"}}},
{"transform":[{"filter":"datum.k==='mk'"}],"mark":{"type":"arc","filled":false,"stroke":"#000","strokeWidth":1,"radiusOffset":3,"radius2Offset":-3,"clip":true},"encoding":{"theta":{"field":"s","type":"quantitative","stack":null},"theta2":{"field":"s"},"radius":{"field":"r","type":"quantitative"},"radius2":{"field":"r"}}},
{"transform":[{"filter":"datum.k==='lab' && datum.s>6.232"}],"mark":{"type":"text","fontSize":4.5,"fill":"#555","radiusOffset":-5,"align":"center","baseline":"middle","clip":true},"encoding":{"theta":{"field":"s","type":"quantitative"},"radius":{"field":"r","type":"quantitative"},"text":{"field":"t"},"angle":{"field":"s","type":"quantitative","scale":{"domain":[0,13.156],"range":[180,-10]}}}},
{"transform":[{"filter":"datum.k==='lab' && datum.s<=6.232"}],"mark":{"type":"text","fontSize":4.5,"fill":"#555","radiusOffset":-5,"align":"center","baseline":"middle","clip":true},"encoding":{"theta":{"field":"s","type":"quantitative"},"radius":{"field":"r","type":"quantitative"},"text":{"field":"t"},"angle":{"field":"s","type":"quantitative","scale":{"domain":[0,13.156],"range":[0,-190]}}}},
{"transform":[{"filter":"datum.k==='snp' && datum.s<=6.232"}],"mark":{"type":"text","fontSize":8,"fill":"#c81ec8","radiusOffset":-1,"align":"right","baseline":"middle","clip":true},"encoding":{"theta":{"field":"s","type":"quantitative"},"radius":{"datum":0,"type":"quantitative"},"text":{"field":"t"},"angle":{"field":"s","type":"quantitative","scale":{"domain":[0,13.156],"range":[0,-190]}}}},
{"transform":[{"filter":"datum.k==='gl' && datum.s<=6.232"}],"mark":{"type":"text","fontSize":4,"fill":"#333","radiusOffset":11,"align":"left","baseline":"middle","clip":true},"encoding":{"theta":{"field":"s","type":"quantitative"},"radius":{"field":"r","type":"quantitative"},"text":{"field":"t"},"angle":{"field":"s","type":"quantitative","scale":{"domain":[0,13.156],"range":[0,-190]}}}},
{"transform":[{"filter":"datum.k==='title'"}],"mark":{"type":"text","fontSize":12,"fontStyle":"italic","fill":"#222","align":"center","baseline":"middle","clip":true},"encoding":{"text":{"field":"t"}}},
{"transform":[{"filter":"datum.k==='sub'"}],"mark":{"type":"text","fontSize":4.5,"fill":"#222","align":"center","baseline":"middle","dy":9,"clip":true},"encoding":{"text":{"field":"t"}}}
]},
{"width":528,"height":270,"data":{"name":"main"},"transform":[{"filter":"datum.p==='GGA26'"}],
"encoding":{"x":{"datum":0.5038,"type":"quantitative","scale":{"domain":[0,1]},"axis":null},"y":{"datum":0.0481,"type":"quantitative","scale":{"domain":[0,1]},"axis":null}},
"resolve":{"scale":{"angle":"independent"}},
"layer":[
{"transform":[{"filter":"datum.k==='title'"}],"mark":{"type":"rect","fill":null,"stroke":"#999","strokeWidth":2,"clip":true},"encoding":{"x":{"datum":0,"type":"quantitative"},"x2":{"datum":1},"y":{"datum":0,"type":"quantitative"},"y2":{"datum":1}}},
{"transform":[{"filter":"datum.k==='ring'"}],"mark":{"type":"arc","filled":false,"stroke":"#000","strokeWidth":0.9,"clip":true},"encoding":{"theta":{"value":0},"theta2":{"value":6.2832},"radius":{"field":"r","type":"quantitative","scale":{"type":"linear","zero":false,"domain":[0,10],"range":[72.5,385.5]}},"radius2":{"field":"r"}}},
{"transform":[{"filter":"datum.k==='bar'"}],"mark":{"type":"arc","stroke":"#000","strokeWidth":0.6,"radiusOffset":4.5,"clip":true},"encoding":{"theta":{"field":"s","type":"quantitative","stack":null,"scale":{"domain":[0,6.31],"range":[1.5708,-1.7453]}},"theta2":{"field":"e"},"radius":{"field":"r","type":"quantitative"},"radius2":{"field":"r"},"color":{"field":"c","type":"nominal","scale":{"domain":["blue","green","yellow"],"range":["#0b0b78","#0f7a0f","#f7f000"]},"legend":null}}},
{"transform":[{"filter":"datum.k==='genes'"}],"mark":{"type":"arc","fill":"#f01010","stroke":"#000","strokeWidth":0.6,"radiusOffset":10,"clip":true},"encoding":{"theta":{"field":"s","type":"quantitative","stack":null},"theta2":{"field":"e"},"radius":{"field":"r","type":"quantitative"},"radius2":{"field":"r"}}},
{"transform":[{"filter":"datum.k==='tick'"}],"mark":{"type":"arc","filled":false,"stroke":"#000","strokeWidth":1.2,"radiusOffset":8,"clip":true},"encoding":{"theta":{"field":"s","type":"quantitative","stack":null},"theta2":{"field":"s"},"radius":{"datum":0,"type":"quantitative"},"radius2":{"datum":0}}},
{"transform":[{"filter":"datum.k==='tick'"}],"mark":{"type":"text","fontSize":4.5,"fill":"#222","radiusOffset":15,"align":"center","baseline":"middle","clip":true},"encoding":{"theta":{"field":"s","type":"quantitative"},"radius":{"datum":0,"type":"quantitative"},"text":{"field":"t"}}},
{"transform":[{"filter":"datum.k==='mk'"}],"mark":{"type":"arc","filled":false,"stroke":"#000","strokeWidth":1,"radiusOffset":3,"radius2Offset":-3,"clip":true},"encoding":{"theta":{"field":"s","type":"quantitative","stack":null},"theta2":{"field":"s"},"radius":{"field":"r","type":"quantitative"},"radius2":{"field":"r"}}},
{"transform":[{"filter":"datum.k==='lab' && datum.s>2.989"}],"mark":{"type":"text","fontSize":4.5,"fill":"#555","radiusOffset":-7,"align":"center","baseline":"middle","clip":true},"encoding":{"theta":{"field":"s","type":"quantitative"},"radius":{"field":"r","type":"quantitative"},"text":{"field":"t"},"angle":{"field":"s","type":"quantitative","scale":{"domain":[0,6.31],"range":[180,-10]}}}},
{"transform":[{"filter":"datum.k==='lab' && datum.s<=2.989"}],"mark":{"type":"text","fontSize":4.5,"fill":"#555","radiusOffset":-7,"align":"center","baseline":"middle","clip":true},"encoding":{"theta":{"field":"s","type":"quantitative"},"radius":{"field":"r","type":"quantitative"},"text":{"field":"t"},"angle":{"field":"s","type":"quantitative","scale":{"domain":[0,6.31],"range":[0,-190]}}}},
{"transform":[{"filter":"datum.k==='snp' && datum.s>2.989"}],"mark":{"type":"text","fontSize":8,"fill":"#c81ec8","radiusOffset":-1,"align":"left","baseline":"middle","clip":true},"encoding":{"theta":{"field":"s","type":"quantitative"},"radius":{"datum":0,"type":"quantitative"},"text":{"field":"t"},"angle":{"field":"s","type":"quantitative","scale":{"domain":[0,6.31],"range":[180,-10]}}}},
{"transform":[{"filter":"datum.k==='gl' && datum.s>2.989"}],"mark":{"type":"text","fontSize":4,"fill":"#333","radiusOffset":12,"align":"right","baseline":"middle","clip":true},"encoding":{"theta":{"field":"s","type":"quantitative"},"radius":{"field":"r","type":"quantitative"},"text":{"field":"t"},"angle":{"field":"s","type":"quantitative","scale":{"domain":[0,6.31],"range":[180,-10]}}}},
{"transform":[{"filter":"datum.k==='title'"}],"mark":{"type":"text","fontSize":12,"fontStyle":"italic","fill":"#222","align":"center","baseline":"middle","clip":true},"encoding":{"text":{"field":"t"}}},
{"transform":[{"filter":"datum.k==='sub'"}],"mark":{"type":"text","fontSize":4.5,"fill":"#222","align":"center","baseline":"middle","dy":9,"clip":true},"encoding":{"text":{"field":"t"}}}
]}
],"spacing":0,"resolve":{"scale":{"angle":"independent"}}},
{"width":1052,"height":515,"data":{"name":"main"},"transform":[{"filter":"datum.p==='GGA27'"}],
"encoding":{"x":{"datum":0.4867,"type":"quantitative","scale":{"domain":[0,1]},"axis":null},"y":{"datum":0.0369,"type":"quantitative","scale":{"domain":[0,1]},"axis":null}},
"resolve":{"scale":{"angle":"independent"}},
"layer":[
{"transform":[{"filter":"datum.k==='ring'"}],"mark":{"type":"arc","filled":false,"stroke":"#000","strokeWidth":1.6,"clip":true},"encoding":{"theta":{"value":0},"theta2":{"value":6.2832},"radius":{"field":"r","type":"quantitative","scale":{"type":"linear","zero":false,"domain":[0,10],"range":[146,409]}},"radius2":{"field":"r"}}},
{"transform":[{"filter":"datum.k==='bar'"}],"mark":{"type":"arc","stroke":"#000","strokeWidth":1,"radiusOffset":7,"clip":true},"encoding":{"theta":{"field":"s","type":"quantitative","stack":null,"scale":{"domain":[0,6.31],"range":[1.5708,-1.7453]}},"theta2":{"field":"e"},"radius":{"field":"r","type":"quantitative"},"radius2":{"field":"r"},"color":{"field":"c","type":"nominal","scale":{"domain":["blue","green","yellow"],"range":["#0b0b78","#0f7a0f","#f7f000"]},"legend":null}}},
{"transform":[{"filter":"datum.k==='genes'"}],"mark":{"type":"arc","fill":"#f01010","stroke":"#000","strokeWidth":1,"radiusOffset":19,"clip":true},"encoding":{"theta":{"field":"s","type":"quantitative","stack":null},"theta2":{"field":"e"},"radius":{"field":"r","type":"quantitative"},"radius2":{"field":"r"}}},
{"transform":[{"filter":"datum.k==='tick'"}],"mark":{"type":"arc","filled":false,"stroke":"#000","strokeWidth":2.2,"radiusOffset":16,"clip":true},"encoding":{"theta":{"field":"s","type":"quantitative","stack":null},"theta2":{"field":"s"},"radius":{"datum":0,"type":"quantitative"},"radius2":{"datum":0}}},
{"transform":[{"filter":"datum.k==='tick'"}],"mark":{"type":"text","fontSize":10,"fill":"#333","radiusOffset":33,"align":"center","baseline":"middle","clip":true},"encoding":{"theta":{"field":"s","type":"quantitative"},"radius":{"datum":0,"type":"quantitative"},"text":{"field":"t"}}},
{"transform":[{"filter":"datum.k==='mk'"}],"mark":{"type":"arc","filled":false,"stroke":"#000","strokeWidth":1.5,"radiusOffset":4,"radius2Offset":-4,"clip":true},"encoding":{"theta":{"field":"s","type":"quantitative","stack":null},"theta2":{"field":"s"},"radius":{"field":"r","type":"quantitative"},"radius2":{"field":"r"}}},
{"transform":[{"filter":"datum.k==='lab' && datum.s>2.989"}],"mark":{"type":"text","fontSize":8.5,"fill":"#222","radiusOffset":-11,"align":"center","baseline":"middle","clip":true},"encoding":{"theta":{"field":"s","type":"quantitative"},"radius":{"field":"r","type":"quantitative"},"text":{"field":"t"},"angle":{"field":"s","type":"quantitative","scale":{"domain":[0,6.31],"range":[180,-10]}}}},
{"transform":[{"filter":"datum.k==='lab' && datum.s<=2.989"}],"mark":{"type":"text","fontSize":8.5,"fill":"#222","radiusOffset":-11,"align":"center","baseline":"middle","clip":true},"encoding":{"theta":{"field":"s","type":"quantitative"},"radius":{"field":"r","type":"quantitative"},"text":{"field":"t"},"angle":{"field":"s","type":"quantitative","scale":{"domain":[0,6.31],"range":[0,-190]}}}},
{"transform":[{"filter":"datum.k==='as'"}],"mark":{"type":"text","fontSize":8.5,"fill":"#222","radiusOffset":-3,"align":"left","baseline":"middle","clip":true},"encoding":{"theta":{"field":"s","type":"quantitative"},"radius":{"field":"r","type":"quantitative"},"text":{"field":"t"},"angle":{"field":"s","type":"quantitative","scale":{"domain":[0,6.31],"range":[180,-10]}}}},
{"transform":[{"filter":"datum.k==='snp' && datum.s>2.989"}],"mark":{"type":"text","fontSize":8,"fill":"#c81ec8","radiusOffset":-5,"align":"left","baseline":"middle","clip":true},"encoding":{"theta":{"field":"s","type":"quantitative"},"radius":{"datum":0,"type":"quantitative"},"text":{"field":"t"},"angle":{"field":"s","type":"quantitative","scale":{"domain":[0,6.31],"range":[180,-10]}}}},
{"transform":[{"filter":"datum.k==='snp' && datum.s<=2.989"}],"mark":{"type":"text","fontSize":8,"fill":"#c81ec8","radiusOffset":-5,"align":"right","baseline":"middle","clip":true},"encoding":{"theta":{"field":"s","type":"quantitative"},"radius":{"datum":0,"type":"quantitative"},"text":{"field":"t"},"angle":{"field":"s","type":"quantitative","scale":{"domain":[0,6.31],"range":[0,-190]}}}},
{"transform":[{"filter":"datum.k==='gl' && datum.s>2.989"}],"mark":{"type":"text","fontSize":8.5,"fill":"#222","radiusOffset":23,"align":"right","baseline":"middle","clip":true},"encoding":{"theta":{"field":"s","type":"quantitative"},"radius":{"field":"r","type":"quantitative"},"text":{"field":"t"},"angle":{"field":"s","type":"quantitative","scale":{"domain":[0,6.31],"range":[180,-10]}}}},
{"transform":[{"filter":"datum.k==='gl' && datum.s<=2.989"}],"mark":{"type":"text","fontSize":8.5,"fill":"#222","radiusOffset":23,"align":"left","baseline":"middle","clip":true},"encoding":{"theta":{"field":"s","type":"quantitative"},"radius":{"field":"r","type":"quantitative"},"text":{"field":"t"},"angle":{"field":"s","type":"quantitative","scale":{"domain":[0,6.31],"range":[0,-190]}}}},
{"transform":[{"filter":"datum.k==='title'"}],"mark":{"type":"text","fontSize":25,"fontStyle":"italic","fill":"#222","align":"center","baseline":"middle","dy":-2,"clip":true},"encoding":{"text":{"field":"t"}}},
{"transform":[{"filter":"datum.k==='sub'"}],"mark":{"type":"text","fontSize":8.5,"fill":"#222","align":"center","baseline":"middle","dy":14,"clip":true},"encoding":{"text":{"field":"t"}}}
]}
]
}
